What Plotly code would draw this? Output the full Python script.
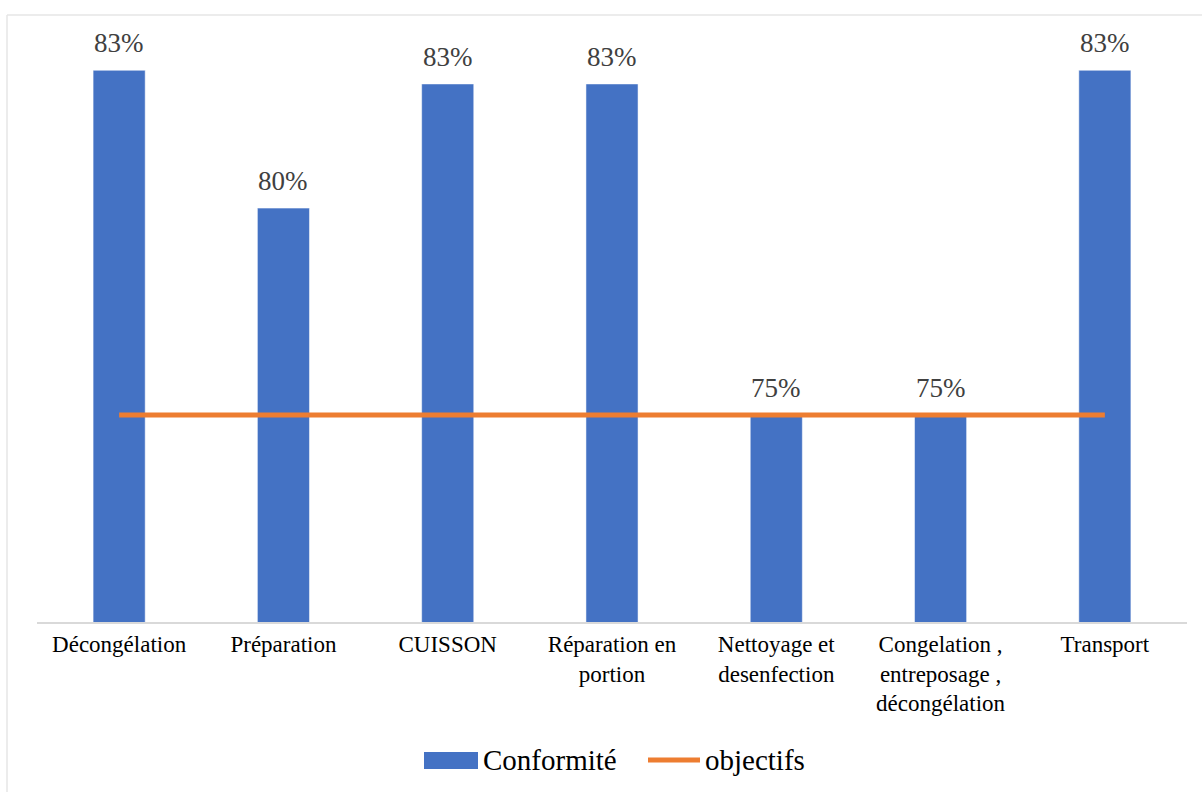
import plotly.graph_objects as go

# Conformity rate per step of the process, with the target level
categories = ["Décongélation", "Préparation", "CUISSON", "Réparation en portion",
              "Nettoyage et desenfection", "Congelation , entreposage , décongélation",
              "Transport"]
tick_labels = ["Décongélation", "Préparation", "CUISSON", "Réparation en<br>portion",
               "Nettoyage et<br>desenfection", "Congelation ,<br>entreposage ,<br>décongélation",
               "Transport"]
conformite = [0.8333, 0.80, 0.83, 0.83, 0.75, 0.75, 0.8333]
objectifs = [0.75, 0.75, 0.75, 0.75, 0.75, 0.75, 0.75]

BLUE = "#4472C4"
ORANGE = "#ED7D31"
LABEL_FONT = "Times New Roman"
TICK_FONT = "Tinos"
LEGEND_FONT = "Liberation Serif"

W, H = 1202, 792
L, R, T, B = 37, 15, 26, 170
pw, ph = W - L - R, H - T - B


def to_px(xpix):
    return (xpix - L) / pw


def to_py(ypix):
    return (H - B - ypix) / ph


fig = go.Figure()
fig.add_trace(go.Bar(x=categories, y=conformite, name="Conformité",
                     marker=dict(color=BLUE), showlegend=False))
fig.add_trace(go.Scatter(x=categories, y=objectifs, name="objectifs", mode="lines",
                         line=dict(color=ORANGE, width=5), showlegend=False))

# value labels above each bar
for c, v in zip(categories, conformite):
    fig.add_annotation(x=c, y=v, text=f"{round(v * 100)}%", showarrow=False,
                       yanchor="middle", yshift=27,
                       font=dict(family=LABEL_FONT, size=27, color="#404040"))

# legend drawn below the chart
fig.add_shape(type="rect", xref="paper", yref="paper",
              x0=to_px(424), x1=to_px(478), y0=to_py(769), y1=to_py(752),
              fillcolor=BLUE, line=dict(width=0))
fig.add_annotation(xref="paper", yref="paper", x=to_px(481), y=to_py(760), text="Conformité",
                   showarrow=False, xanchor="left", yanchor="middle",
                   font=dict(family=LEGEND_FONT, size=29, color="#000000"))
fig.add_shape(type="line", xref="paper", yref="paper",
              x0=to_px(648), x1=to_px(700), y0=to_py(760), y1=to_py(760),
              line=dict(color=ORANGE, width=5))
fig.add_annotation(xref="paper", yref="paper", x=to_px(703), y=to_py(760), text="objectifs",
                   showarrow=False, xanchor="left", yanchor="middle",
                   font=dict(family=LEGEND_FONT, size=29, color="#000000"))

# chart area border (top and left edges)
fig.add_shape(type="line", xref="paper", yref="paper",
              x0=to_px(7), x1=to_px(1202), y0=to_py(15), y1=to_py(15),
              line=dict(color="#E6E6E6", width=1.5))
fig.add_shape(type="line", xref="paper", yref="paper",
              x0=to_px(7), x1=to_px(7), y0=to_py(15), y1=to_py(792),
              line=dict(color="#E6E6E6", width=1.5))

fig.update_layout(
    width=W, height=H,
    margin=dict(l=L, r=R, t=T, b=B),
    template="plotly_white",
    bargap=0.683,
    xaxis=dict(type="category", tickvals=categories, ticktext=tick_labels,
               showline=True, linecolor="#D9D9D9", linewidth=2, ticks="",
               showgrid=False, zeroline=False,
               tickfont=dict(family=TICK_FONT, size=23, color="#000000")),
    yaxis=dict(range=[0.70, 0.844], showticklabels=False, showgrid=False,
               zeroline=False, showline=False, ticks=""),
)

fig.write_html("out.html")
